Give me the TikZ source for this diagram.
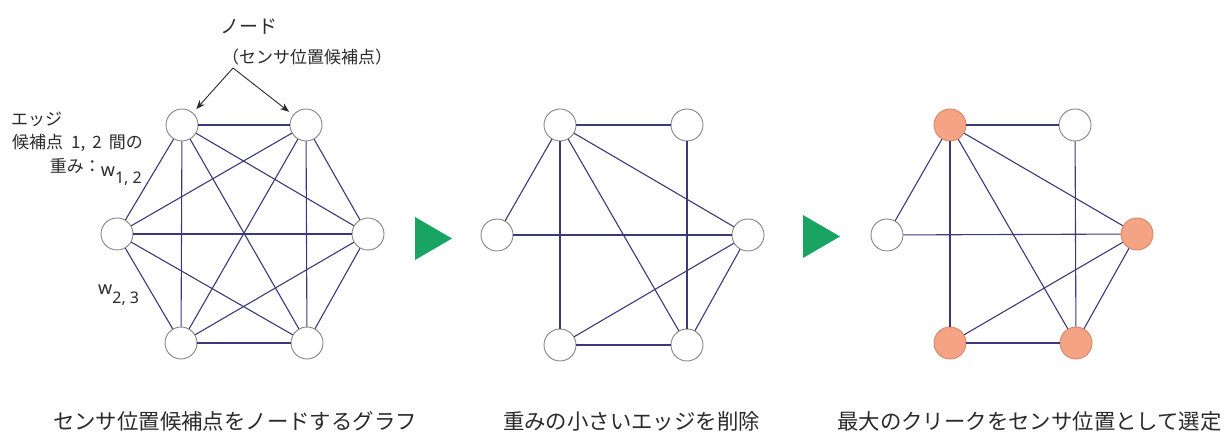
\documentclass[tikz,border=0pt]{standalone}
\usepackage{fontspec}
\setmainfont{Noto Sans CJK JP}
\newfontfamily\latinfont{Noto Sans}
\usetikzlibrary{arrows.meta}
\definecolor{edgecol}{HTML}{3A3A78}
\definecolor{ringcol}{HTML}{858585}
\definecolor{greencol}{HTML}{1AA463}
\definecolor{orangefill}{HTML}{F4A484}
\definecolor{orangedraw}{HTML}{D8876A}
\definecolor{textcol}{HTML}{2A2A2A}
\begin{document}
\begin{tikzpicture}[x=1pt,y=-1pt,
  vtx/.style={circle,draw=ringcol,line width=0.9pt,fill=white,minimum size=32pt,inner sep=0pt},
  sel/.style={vtx,fill=orangefill,draw=orangedraw},
  edge/.style={draw=edgecol,line width=1.1pt},
  ptr/.style={draw=textcol,line width=0.9pt,-{Stealth[length=9pt,width=7pt]},shorten >=5pt},
  lbl/.style={inner sep=0pt,text=textcol},
  captext/.style={lbl,font=\fontsize{21.4}{22}\selectfont,anchor=base},
  tri/.style={fill=greencol}]
\useasboundingbox (0,0) rectangle (1227,435);

% ---------- graph 1 ----------
\node[vtx] (a1) at (182,125) {};
\node[vtx] (a2) at (306,125) {};
\node[vtx] (a3) at (117,234) {};
\node[vtx] (a4) at (368,234) {};
\node[vtx] (a5) at (181,343) {};
\node[vtx] (a6) at (307,343) {};
\foreach \u/\v in {a1/a2,a1/a3,a1/a4,a1/a5,a1/a6,a2/a3,a2/a4,a2/a5,a2/a6,a3/a4,a3/a5,a3/a6,a4/a5,a4/a6,a5/a6}
  \draw[edge] (\u) -- (\v);

\node[lbl,font=\fontsize{19}{19}\selectfont,anchor=base] (nlbl) at (249,34) {ノード};
\node[lbl,font=\fontsize{17}{17}\selectfont,anchor=base] (nsub) at (307,63.5) {（センサ位置候補点）};
\coordinate (asrc) at (233,68);
\draw[ptr] (asrc) -- (a1);
\draw[ptr] (asrc) -- (a2);

\node[lbl,font=\fontsize{17}{17}\selectfont,anchor=base west] (elbl) at (11,125.5) {エッジ};
\node[lbl,font=\fontsize{17}{17}\selectfont,anchor=base east] (elbl2) at (143,148.5) {候補点\hspace{8pt}1,\hspace{7pt}2\hspace{7pt}間の};
\node[lbl,font=\fontsize{17}{17}\selectfont,anchor=base east] (elbl3) at (142,172.5)
  {重み：\raisebox{-4pt}{\latinfont\fontsize{18}{18}\selectfont w}\raisebox{-11pt}{\latinfont\fontsize{16}{16}\selectfont 1, 2}};
\node[lbl,anchor=base west] (w23) at (98,295)
  {\latinfont\fontsize{18}{18}\selectfont w\raisebox{-9pt}{\fontsize{16}{16}\selectfont 2, 3}};

% ---------- arrow 1 ----------
\fill[tri] (415,217) -- (452,238.5) -- (415,260) -- cycle;

% ---------- graph 2 ----------
\node[vtx] (b1) at (560,125) {};
\node[vtx] (b2) at (687,125) {};
\node[vtx] (b3) at (497,235) {};
\node[vtx] (b4) at (748,235) {};
\node[vtx] (b5) at (560,345) {};
\node[vtx] (b6) at (687,345) {};
\foreach \u/\v in {b1/b2,b1/b3,b1/b5,b1/b6,b1/b4,b2/b6,b3/b4,b4/b5,b4/b6,b5/b6}
  \draw[edge] (\u) -- (\v);

% ---------- arrow 2 ----------
\fill[tri] (803,215) -- (840,236.5) -- (803,258) -- cycle;

% ---------- graph 3 ----------
\node[sel] (c1) at (950,125) {};
\node[vtx] (c2) at (1075,125) {};
\node[vtx] (c3) at (887,235) {};
\node[sel] (c4) at (1137,234) {};
\node[sel] (c5) at (950,343) {};
\node[sel] (c6) at (1076,343) {};
\foreach \u/\v in {c1/c2,c1/c3,c1/c5,c1/c6,c1/c4,c2/c6,c3/c4,c4/c5,c4/c6,c5/c6}
  \draw[edge] (\u) -- (\v);

% ---------- captions ----------
\node[captext] (cap1) at (235,430) {センサ位置候補点をノードするグラフ};
\node[captext] (cap2) at (631.5,430) {重みの小さいエッジを削除};
\node[captext] (cap3) at (1029.5,430) {最大のクリークをセンサ位置として選定};
\end{tikzpicture}
\end{document}
